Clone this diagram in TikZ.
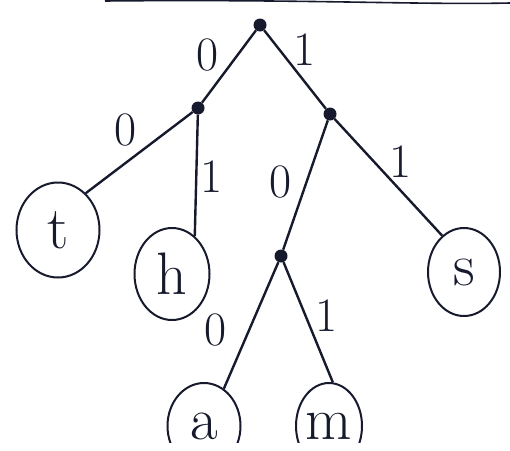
\documentclass[tikz,border=0pt]{standalone}
\usetikzlibrary{shapes.geometric}
\definecolor{ink}{HTML}{161A2C}
\tikzset{
  leaf/.style={draw=ink, line width=2pt, ellipse, inner sep=0pt, text=ink, font=\fontsize{60}{60}\selectfont},
  dot/.style={circle, fill=ink, inner sep=0pt, minimum size=13pt},
  edge/.style={draw=ink, line width=2.4pt},
  bit/.style={text=ink, font=\fontsize{48}{48}\selectfont, inner sep=0pt}
}
\begin{document}
\begin{tikzpicture}[x=1pt,y=-1pt]
\useasboundingbox (0,0) rectangle (510,450);
\begin{scope}
\clip (0,0) rectangle (510,442);
% paper edge at top
\coordinate (e1) at (105,1);
\coordinate (e2) at (510,3);
\draw[ink, line width=1.6pt] (e1) .. controls (300,-1) and (420,5) .. (e2);
% internal nodes
\node[dot] (root) at (260,25) {};
\node[dot] (L) at (198,108) {};
\node[dot] (R) at (330,114) {};
\node[dot] (D) at (281,256) {};
% leaves
\node[leaf, minimum width=83pt, minimum height=95pt] (t) at (58,230) {t};
\node[leaf, minimum width=75pt, minimum height=92pt] (h) at (172,274) {h};
\node[leaf, minimum width=72pt, minimum height=88pt] (s) at (464,272) {s};
\node[leaf, minimum width=73pt, minimum height=86pt] (a) at (204,426) {a};
\node[leaf, minimum width=66pt, minimum height=86pt] (m) at (329,426) {m};
% edges
\draw[edge] (root) -- (L);
\draw[edge] (root) -- (R);
\draw[edge] (L) -- (t.53);
\draw[edge] (L) -- (h.59);
\draw[edge] (R) -- (D);
\draw[edge] (R) -- (s.121);
\draw[edge] (D) -- (a.62);
\draw[edge] (D) -- (m.85);
% labels
\node[bit] (b1) at (208,55) {0};
\node[bit] (b2) at (305,50) {1};
\node[bit] (b3) at (126,130) {0};
\node[bit] (b4) at (212,177) {1};
\node[bit] (b5) at (281,182) {0};
\node[bit] (b6) at (401,162) {1};
\node[bit] (b7) at (216,330) {0};
\node[bit] (b8) at (327,316) {1};
\end{scope}
\end{tikzpicture}
\end{document}
